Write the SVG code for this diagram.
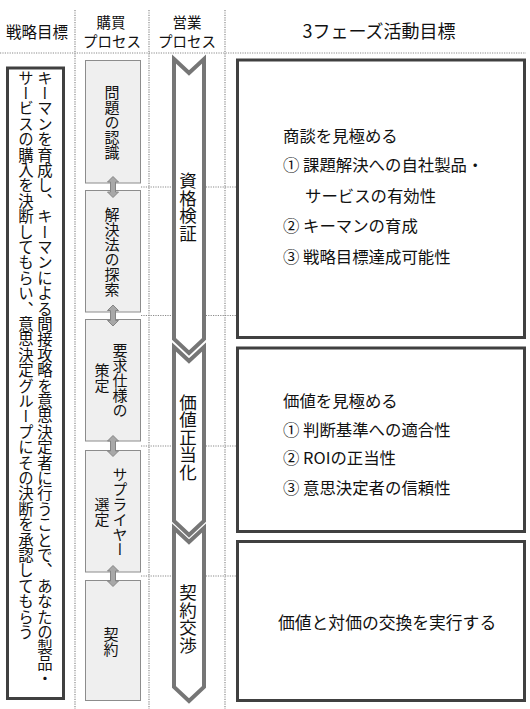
<svg xmlns="http://www.w3.org/2000/svg" width="530" height="709" viewBox="0 0 530 709">
<style>
text{font-family:"Noto Sans CJK JP","Noto Sans",sans-serif;fill:#111;}
.hd{font-size:14.5px;text-anchor:middle;}
.vt{writing-mode:vertical-rl;}
.dot{stroke:#8a8a8a;stroke-width:1.2;stroke-dasharray:1.2 1.2;fill:none;}
.pbox{fill:#efefef;stroke:#8c8c8c;stroke-width:1;}
.ptx{font-size:15px;text-anchor:middle;}
.chev{fill:#fff;stroke:#767676;stroke-width:4;stroke-linejoin:miter;}
.ctx{font-size:17.5px;text-anchor:middle;}
.gbox{fill:#fff;stroke:#404040;stroke-width:3;}
.gtx{font-size:16.4px;}
.arr{fill:#a8a8a8;stroke:#858585;stroke-width:1;}
</style>
<defs>
<path id="dblarrow" d="M0,-10.5 L5.5,-5 L2.5,-5 L2.5,5 L5.5,5 L0,10.5 L-5.5,5 L-2.5,5 L-2.5,-5 L-5.5,-5 Z"/>
</defs>
<rect width="530" height="709" fill="#fff"/>
<g id="grid">
<line class="dot" x1="0" y1="53" x2="526" y2="53"/>
<line class="dot" x1="75" y1="10" x2="75" y2="709"/>
<line class="dot" x1="149" y1="10" x2="149" y2="709"/>
<line class="dot" x1="225" y1="10" x2="225" y2="709"/>
<line class="dot" x1="141" y1="187" x2="236" y2="187"/>
<line class="dot" x1="141" y1="315.5" x2="236" y2="315.5"/>
<line class="dot" x1="141" y1="446" x2="236" y2="446"/>
<line class="dot" x1="141" y1="576" x2="236" y2="576"/>
</g>
<g id="header">
<text x="37" y="38" style="font-size:15.5px;text-anchor:middle">戦略目標</text>
<text class="hd" x="111" y="28">購買</text>
<text class="hd" x="112" y="47">プロセス</text>
<text class="hd" x="187" y="28">営業</text>
<text class="hd" x="187" y="47">プロセス</text>
<text x="379" y="38" style="font-size:18px;text-anchor:middle">3フェーズ活動目標</text>
</g>
<g id="strategy">
<rect class="gbox" x="7.5" y="68" width="56" height="630.5"/>
<text class="vt" x="45" y="70" style="font-size:15.4px">キーマンを育成し、キーマンによる間接攻略を意思決定者に行うことで、あなたの製品・</text>
<text class="vt" x="26" y="70" style="font-size:15.4px">サービスの購入を決断してもらい、意思決定グループにその決断を承認してもらう</text>
</g>
<g id="p1"><rect class="pbox" x="85.5" y="60.5" width="55" height="122.5"/><text class="vt ptx" x="112" y="122">問題の認識</text></g>
<g id="p2"><rect class="pbox" x="85.5" y="190.5" width="55" height="121.5"/><text class="vt ptx" x="112" y="252">解決法の探索</text></g>
<g id="p3"><rect class="pbox" x="85.5" y="319.5" width="55" height="121.5"/><text class="vt ptx" x="120" y="380">要求仕様の</text><text class="vt ptx" x="102" y="378">策定</text></g>
<g id="p4"><rect class="pbox" x="85.5" y="450.5" width="55" height="121.5"/><text class="vt ptx" x="120" y="512">サプライヤー</text><text class="vt ptx" x="102" y="512">選定</text></g>
<g id="p5"><rect class="pbox" x="85.5" y="580.5" width="55" height="120"/><text class="vt ptx" x="111" y="642">契約</text></g>
<g id="connectors">
<use href="#dblarrow" class="arr" x="113" y="187"/>
<use href="#dblarrow" class="arr" x="113" y="315.5"/>
<use href="#dblarrow" class="arr" x="113" y="446"/>
<use href="#dblarrow" class="arr" x="113" y="576"/>
</g>
<g id="s1"><polygon class="chev" points="174,59 189,73 204,59 204,339 189,353 174,339"/><text class="vt ctx" x="188" y="207">資格検証</text></g>
<g id="s2"><polygon class="chev" points="174,347 189,361 204,347 204,521 189,535 174,521"/><text class="vt ctx" x="188" y="437">価値正当化</text></g>
<g id="s3"><polygon class="chev" points="174,528 189,542 204,528 204,687 189,701 174,687"/><text class="vt ctx" x="188" y="619">契約交渉</text></g>
<g id="g1">
<rect class="gbox" x="237.5" y="60" width="287" height="277.5"/>
<text class="gtx" x="283" y="141.5">商談を見極める</text>
<text class="gtx" x="283" y="170.5">① 課題解決への自社製品・</text>
<text class="gtx" x="305" y="201.5">サービスの有効性</text>
<text class="gtx" x="283" y="231.5">② キーマンの育成</text>
<text class="gtx" x="283" y="262.5">③ 戦略目標達成可能性</text>
</g>
<g id="g2">
<rect class="gbox" x="237.5" y="348" width="287" height="183.5"/>
<text class="gtx" x="283" y="406.5">価値を見極める</text>
<text class="gtx" x="283" y="435.5">① 判断基準への適合性</text>
<text class="gtx" x="283" y="464">② ROIの正当性</text>
<text class="gtx" x="283" y="494">③ 意思決定者の信頼性</text>
</g>
<g id="g3">
<rect class="gbox" x="237.5" y="541.5" width="287" height="159"/>
<text class="gtx" x="278" y="628.5" style="font-size:16.8px">価値と対価の交換を実行する</text>
</g>
</svg>
